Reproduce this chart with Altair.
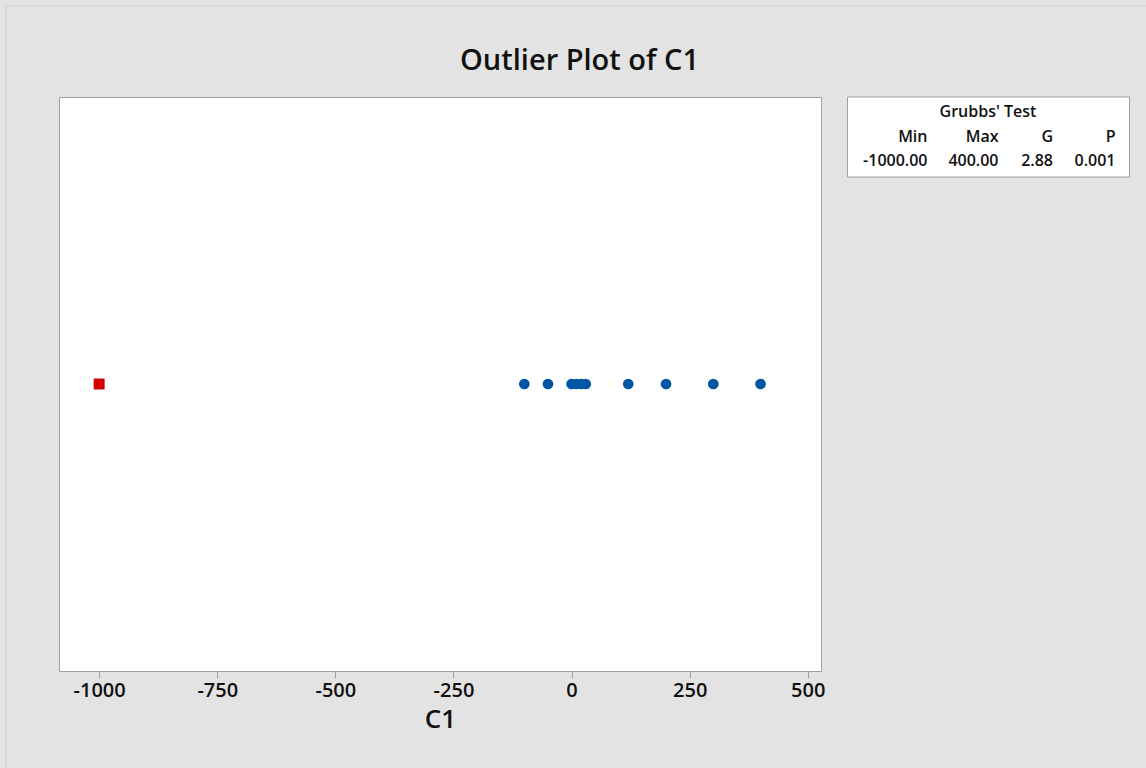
import altair as alt
import pandas as pd

# ---- data ----
c1_values = [-1000, -100, -50, 0, 10, 20, 30, 120, 200, 300, 400]
outlier_flags = ["Outlier", "Normal", "Normal", "Normal", "Normal", "Normal",
                 "Normal", "Normal", "Normal", "Normal", "Normal"]
tick_values = [-1000, -750, -500, -250, 0, 250, 500]

chart_title = "Outlier Plot of C1"
table_title = "Grubbs' Test"
table_headers = ["Min", "Max", "G", "P"]
table_values = ["-1000.00", "400.00", "2.88", "0.001"]

FONT = "Open Sans"
W, H = 762, 574
PAD_L, PAD_T = 59, 97

df = pd.DataFrame({"C1": c1_values, "kind": outlier_flags})

xscale = alt.Scale(domain=[-1085, 528], nice=False, zero=False)
xaxis = alt.Axis(values=tick_values, grid=False, domain=False,
                 labelExpr="datum.value + ''",
                 tickColor="#a0a0a0", tickSize=7, tickWidth=1,
                 labelFontSize=20, labelFont=FONT, labelFontWeight=600,
                 labelColor="#111111", labelPadding=2,
                 title="C1", titleFontSize=26, titleFont=FONT,
                 titleFontWeight=600, titleColor="#111111", titlePadding=6)

normal = alt.Chart(df).transform_filter(alt.datum.kind == "Normal").mark_point(
    filled=True, shape="circle", size=115, color="#0055a5", opacity=1
).encode(
    x=alt.X("C1:Q", scale=xscale, axis=xaxis),
    y=alt.value(H / 2),
)

outl = alt.Chart(df).transform_filter(alt.datum.kind == "Outlier").mark_point(
    filled=True, shape="square", size=120, color="#d40000", opacity=1
).encode(
    x=alt.X("C1:Q", scale=xscale, axis=xaxis),
    y=alt.value(H / 2),
)

one = pd.DataFrame({"a": [0]})

outer = alt.Chart(one).mark_rect(fill="transparent", stroke="#cfcfcf", strokeWidth=1).encode(
    x=alt.value(6 - PAD_L), x2=alt.value(1200), y=alt.value(6 - PAD_T), y2=alt.value(800)
)

title_mark = alt.Chart(one).mark_text(
    text=chart_title, font=FONT, fontSize=29, fontWeight=600, color="#111111",
    align="center", baseline="alphabetic"
).encode(x=alt.value(579.5 - PAD_L), y=alt.value(70 - PAD_T))

box = alt.Chart(one).mark_rect(fill="white", stroke="#a0a0a0", strokeWidth=1).encode(
    x=alt.value(847.5 - PAD_L), x2=alt.value(1129.5 - PAD_L),
    y=alt.value(0), y2=alt.value(80)
)

layers = [outer, title_mark, box]
layers.append(
    alt.Chart(one).mark_text(text=table_title, font=FONT, fontSize=16, fontWeight=600,
                             color="#111111", align="center", baseline="middle").encode(
        x=alt.value(988 - PAD_L), y=alt.value(112 - PAD_T))
)
col_right = [927.5, 998.5, 1053, 1115.5]
for i in range(4):
    layers.append(
        alt.Chart(one).mark_text(text=table_headers[i], font=FONT, fontSize=16, fontWeight=600,
                                 color="#111111", align="right", baseline="middle").encode(
            x=alt.value(col_right[i] - PAD_L), y=alt.value(136.5 - PAD_T))
    )
    layers.append(
        alt.Chart(one).mark_text(text=table_values[i], font=FONT, fontSize=16, fontWeight=600,
                                 color="#111111", align="right", baseline="middle").encode(
            x=alt.value(col_right[i] - PAD_L), y=alt.value(160.5 - PAD_T))
    )

chart = alt.layer(*layers, normal, outl).properties(
    width=W, height=H,
    padding={"left": PAD_L, "top": PAD_T, "right": 1146 - PAD_L - W, "bottom": 768 - PAD_T - H},
    autosize=alt.AutoSizeParams(type="none"),
).configure(background="#e3e3e3").configure_view(
    fill="white", stroke="#a0a0a0", strokeWidth=1
)

chart.save("out.html", embed_options={"renderer": "svg", "actions": False})
